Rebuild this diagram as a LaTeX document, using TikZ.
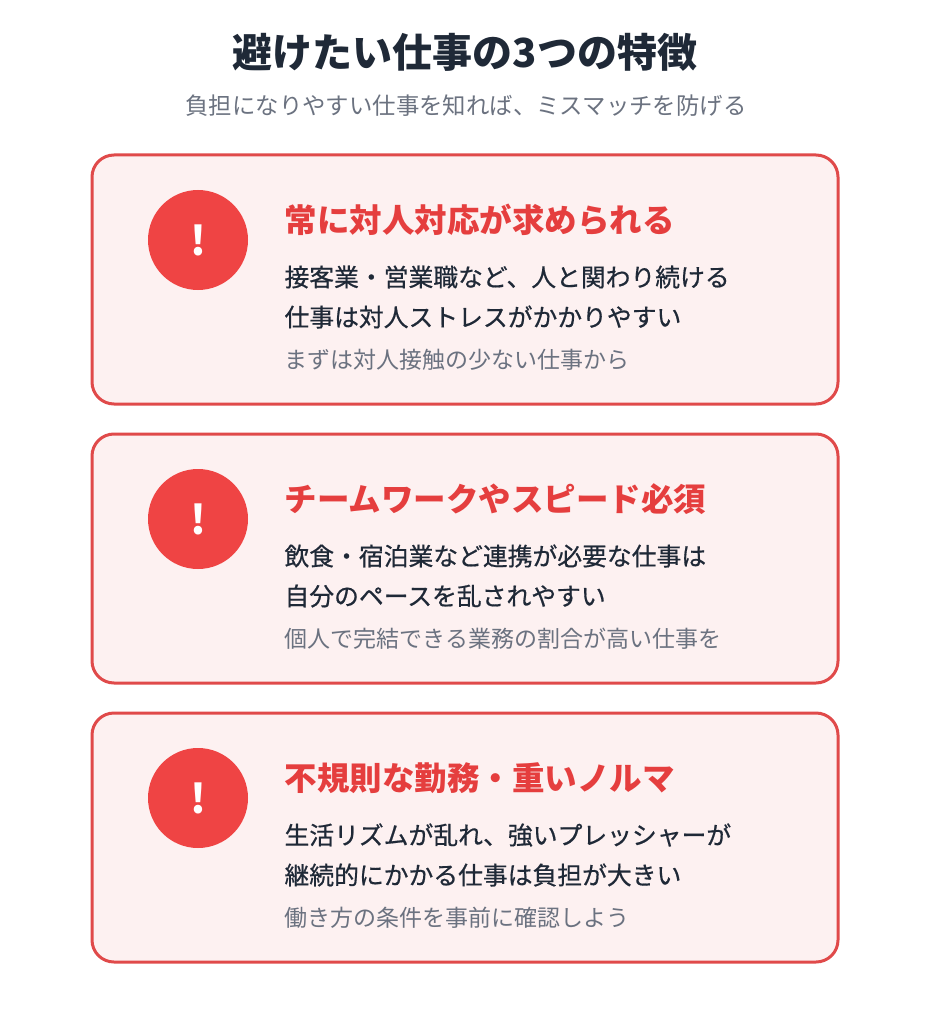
\documentclass[tikz,border=0pt]{standalone}
\usepackage{fontspec}
\setmainfont{Noto Sans CJK JP}
\newfontfamily\medfont{Noto Sans CJK JP}[FakeBold=0.6]
\begin{document}
\begin{tikzpicture}[x=1pt,y=-1pt,
  card/.style={draw=cardred,line width=3pt,fill=cardbg,rounded corners=22pt},
  icon/.style={circle,fill=iconred,minimum size=100pt,inner sep=0pt,text=white,font=\bfseries\fontsize{40}{40}\selectfont},
  head/.style={anchor=west,text=headred,font=\bfseries\fontsize{32.5}{32.5}\selectfont},
  body/.style={anchor=west,text=bodytxt,font=\medfont\fontsize{24.8}{24.8}\selectfont},
  note/.style={anchor=west,text=notegray,font=\fontsize{23}{23}\selectfont}]
\definecolor{cardred}{HTML}{E04A4A}
\definecolor{cardbg}{HTML}{FDF1F1}
\definecolor{iconred}{HTML}{EF4444}
\definecolor{headred}{HTML}{E53E3E}
\definecolor{bodytxt}{HTML}{1F2937}
\definecolor{notegray}{HTML}{6B7280}
\definecolor{titletxt}{HTML}{1F2937}
\useasboundingbox[fill=white] (0,0) rectangle (931,1024);
\node[text=titletxt,font=\bfseries\fontsize{40}{40}\selectfont] (title) at (465,52) {避けたい仕事の3つの特徴};
\node[text=notegray,font=\fontsize{23.4}{23.4}\selectfont] (sub) at (466,106) {負担になりやすい仕事を知れば、ミスマッチを防げる};
\foreach \y/\n/\h/\a/\b/\c in {
 155/1/常に対人対応が求められる/接客業・営業職など、人と関わり続ける/仕事は対人ストレスがかかりやすい/まずは対人接触の少ない仕事から,
 434/2/チームワークやスピード必須/飲食・宿泊業など連携が必要な仕事は/自分のペースを乱されやすい/個人で完結できる業務の割合が高い仕事を,
 713/3/不規則な勤務・重いノルマ/生活リズムが乱れ、強いプレッシャーが/継続的にかかる仕事は負担が大きい/働き方の条件を事前に確認しよう}{
 \draw[card] (92,\y) rectangle (838,\y+249);
 \node[icon] (i\n) at (198,\y+85) {!};
 \node[head] (h\n) at (281,\y+65) {\h};
 \node[body] (a\n) at (281,\y+122) {\a};
 \node[body] (b\n) at (281,\y+162) {\b};
 \node[note] (c\n) at (281,\y+205) {\c};
}
\end{tikzpicture}
\end{document}
